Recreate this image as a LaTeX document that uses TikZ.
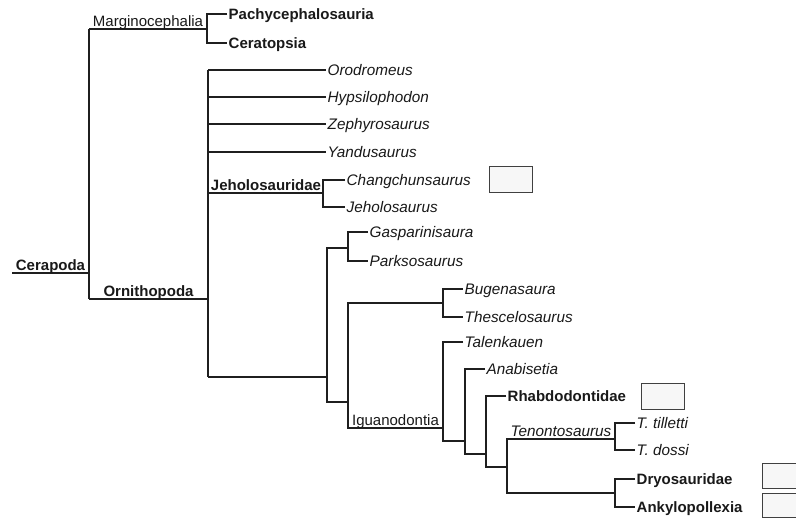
\documentclass[tikz,border=0pt]{standalone}
\usepackage{fontspec}
\setmainfont{Liberation Sans}
\begin{document}
\begin{tikzpicture}[x=1pt,y=-1pt]
\tikzset{
 br/.style={line width=1.15pt, draw=black!88},
 lfont/.style={font=\fontsize{15.3}{17}\selectfont\itshape},
 leaf/.style={anchor=west, inner sep=0pt, inner xsep=1.5pt, text height=11pt, text depth=0pt, text=black!90, lfont},
 leafb/.style={leaf, font=\fontsize{15}{17}\selectfont\bfseries},
 clade/.style={anchor=base, inner sep=0pt, text=black!90, font=\fontsize{15}{17}\selectfont},
 cladeb/.style={clade, font=\fontsize{15}{17}\selectfont\bfseries},
 cladei/.style={clade, font=\fontsize{15.3}{17}\selectfont\itshape},
 imgbox/.style={draw=black!75, line width=0.8pt, fill=black!3, anchor=north west, inner sep=0pt},
}
\path[use as bounding box] (0,0) rectangle (796,519);
\clip (0,0) rectangle (796,519);
\fill[white] (0,0) rectangle (796,519);

% root
\coordinate (r) at (89,273);
\coordinate (rT) at (89,29);
\coordinate (rB) at (89,299);
\coordinate (cerL) at (12,273);
\draw[br] (cerL) -- (r);
\draw[br] (rT) -- (rB);
\node[cladeb] (cerapoda) at (50.5,270.5) {Cerapoda};

% Marginocephalia
\coordinate (m) at (207,29);
\draw[br] (rT) -- (m);
\node[clade] (margino) at (148,26.5) {Marginocephalia};
\node[leafb] (pachy) at (227,14) {Pachycephalosauria};
\node[leafb] (cerat) at (227,43) {Ceratopsia};
\draw[br] (pachy.west) -| (m) |- (cerat.west);

% Ornithopoda
\coordinate (o) at (208,299);
\draw[br] (rB) -- (o);
\node[cladeb] (ornitho) at (148.5,296.5) {Ornithopoda};
\coordinate (oT) at (208,70);
\coordinate (oB) at (208,377);
\draw[br] (oT) -- (oB);
\node[leaf] (orod) at (326,70) {Orodromeus};
\node[leaf] (hyps) at (326,97) {Hypsilophodon};
\node[leaf] (zeph) at (326,124) {Zephyrosaurus};
\node[leaf] (yand) at (326,152) {Yandusaurus};
\draw[br] (oT) -- (orod.west);
\draw[br] (oT |- hyps.west) -- (hyps.west);
\draw[br] (oT |- zeph.west) -- (zeph.west);
\draw[br] (oT |- yand.west) -- (yand.west);

% Jeholosauridae
\coordinate (j) at (323,193);
\draw[br] (oT |- j) -- (j);
\node[cladeb] (jeho) at (266,190.5) {Jeholosauridae};
\node[leaf] (chang) at (345,180) {Changchunsaurus};
\node[leaf] (jehos) at (345,207) {Jeholosaurus};
\draw[br] (chang.west) -| (j) |- (jehos.west);
\node[imgbox, minimum width=43pt, minimum height=26pt] (boxC) at (489,166) {};

% node A
\coordinate (a) at (327,377);
\draw[br] (oB) -- (a);
\coordinate (g) at (348,248);
\node[leaf] (gasp) at (368,232) {Gasparinisaura};
\node[leaf] (parks) at (368,261) {Parksosaurus};
\draw[br] (gasp.west) -| (g) |- (parks.west);
\coordinate (b) at (348,402);
\draw[br] (g) -| (a) |- (b);

% node B
\coordinate (bu) at (443,303);
\node[leaf] (bugen) at (463,289) {Bugenasaura};
\node[leaf] (thesc) at (463,317) {Thescelosaurus};
\draw[br] (bugen.west) -| (bu) |- (thesc.west);
\coordinate (ig) at (443,428);
\draw[br] (bu) -| (b) |- (ig);
\node[clade] (iguano) at (395.5,425.5) {Iguanodontia};

% Iguanodontia
\node[leaf] (talen) at (463,342) {Talenkauen};
\coordinate (c1) at (465,441);
\draw[br] (talen.west) -| (ig) |- (c1);
\node[leaf] (anabi) at (485,369) {Anabisetia};
\coordinate (c2) at (486,454);
\draw[br] (anabi.west) -| (c1) |- (c2);
\node[leafb] (rhabdo) at (506,396) {Rhabdodontidae};
\node[imgbox, minimum width=43pt, minimum height=26pt] (boxR) at (641,383) {};
\coordinate (c3) at (507,467);
\draw[br] (rhabdo.west) -| (c2) |- (c3);
\coordinate (t) at (615,439);
\coordinate (d) at (615,493);
\draw[br] (t) -| (c3) |- (d);
\node[cladei] (tenon) at (561,436.5) {Tenontosaurus};
\node[leaf] (tilletti) at (635,423) {T. tilletti};
\node[leaf] (dossi) at (635,450) {T. dossi};
\draw[br] (tilletti.west) -| (t) |- (dossi.west);
\node[leafb] (dryo) at (635,479) {Dryosauridae};
\node[leafb] (ankylo) at (635,507) {Ankylopollexia};
\draw[br] (dryo.west) -| (d) |- (ankylo.west);
\node[imgbox, minimum width=48pt, minimum height=25pt] (boxD) at (762,463) {};
\node[imgbox, minimum width=48pt, minimum height=24pt] (boxK) at (762,493) {};
\end{tikzpicture}
\end{document}
